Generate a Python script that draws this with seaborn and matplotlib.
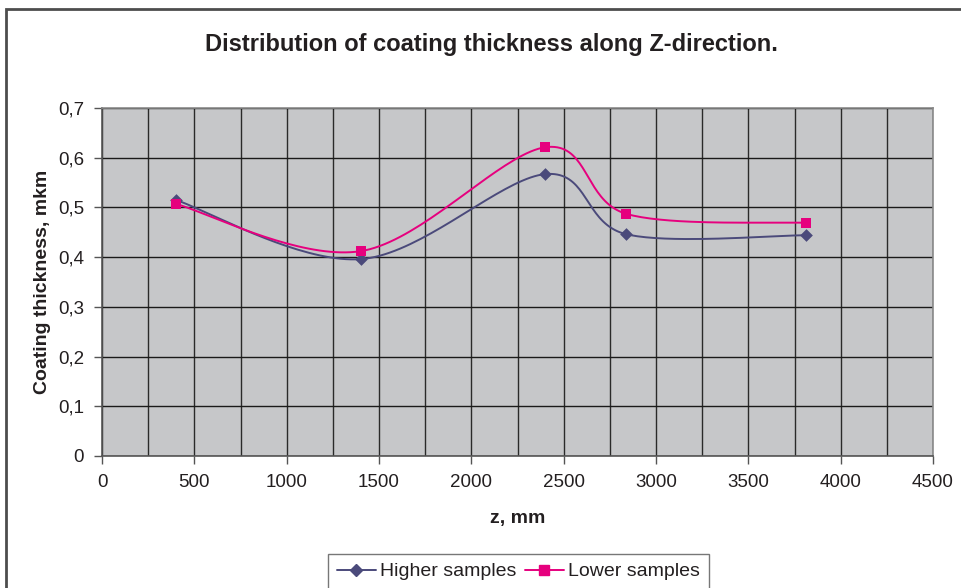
import numpy as np
import pandas as pd
import matplotlib
matplotlib.use("Agg")
import matplotlib.pyplot as plt
import seaborn as sns
from matplotlib.lines import Line2D
from matplotlib.patches import Rectangle
from matplotlib.ticker import MultipleLocator, FuncFormatter

# ---- data ----
z_mm = [400, 1400, 2400, 2840, 3810]
higher = [0.515, 0.396, 0.567, 0.446, 0.444]
lower = [0.507, 0.412, 0.621, 0.487, 0.469]
series_names = ["Higher samples", "Lower samples"]
title = "Distribution of coating thickness along Z-direction."
xlabel = "z, mm"
ylabel = "Coating thickness, mkm"

HIGH_C = "#4B4A7B"
LOW_C = "#E6007E"

sns.set_theme(style="white")
plt.rcParams["font.family"] = ["Liberation Sans", "DejaVu Sans"]

fig = plt.figure(figsize=(9.61, 5.88), dpi=100)
ax = fig.add_axes([102 / 961, 1 - 456 / 588, (933 - 102) / 961, (456 - 108) / 588])
ax.set_xlim(0, 4500)
ax.set_ylim(0, 0.7)

# Excel-like smoothing (Bezier through points), computed in display proportions
def smooth(xs, ys, n=40):
    sx = 831 / 4500.0
    sy = 348 / 0.7
    P = np.column_stack([np.asarray(xs, float) * sx, np.asarray(ys, float) * sy])
    out = []
    m = len(P)
    for i in range(m - 1):
        p0 = P[i - 1] if i > 0 else P[i]
        p1 = P[i]
        p2 = P[i + 1]
        p3 = P[i + 2] if i + 2 < m else P[i + 1]
        c1 = p1 + (p2 - p0) / 6.0
        c2 = p2 - (p3 - p1) / 6.0
        t = np.linspace(0, 1, n)[:, None]
        seg = ((1 - t) ** 3) * p1 + 3 * ((1 - t) ** 2) * t * c1 + 3 * (1 - t) * t ** 2 * c2 + t ** 3 * p2
        out.append(seg if i == 0 else seg[1:])
    out = np.vstack(out)
    return out[:, 0] / sx, out[:, 1] / sy

for vals, col, mk, ms, name in [(higher, HIGH_C, "D", 42, series_names[0]),
                                (lower, LOW_C, "s", 55, series_names[1])]:
    sxv, syv = smooth(z_mm, vals)
    df_line = pd.DataFrame({"z": sxv, "v": syv})
    sns.lineplot(data=df_line, x="z", y="v", ax=ax, color=col, lw=1.4, sort=False,
                 estimator=None, zorder=3)
    df_pts = pd.DataFrame({"z": z_mm, "v": vals})
    sns.scatterplot(data=df_pts, x="z", y="v", ax=ax, color=col, marker=mk, s=ms,
                    edgecolor=col, linewidth=0, zorder=4)

ax.set_facecolor("#C6C7C9")
ax.xaxis.set_major_locator(MultipleLocator(500))
ax.xaxis.set_minor_locator(MultipleLocator(250))
ax.yaxis.set_major_locator(MultipleLocator(0.1))
ax.grid(which="major", axis="y", color="#1a1a1a", lw=1.0, zorder=1)
ax.grid(which="both", axis="x", color="#2a2a2a", lw=1.0, zorder=1)
ax.set_axisbelow(True)

def yfmt(v, pos):
    if abs(v) < 1e-9:
        return "0"
    return f"{v:.1f}".replace(".", ",")

ax.yaxis.set_major_formatter(FuncFormatter(yfmt))
ax.tick_params(axis="both", which="major", direction="out", length=6, width=1,
               color="#555555", labelsize=13.5, labelcolor="#231F20", pad=7,
               bottom=True, left=True)
ax.tick_params(axis="x", which="minor", length=0, bottom=False)
for s in ax.spines.values():
    s.set_color("#8a8a8a")
    s.set_linewidth(1.2)
ax.spines["left"].set_color("#555555")
ax.spines["bottom"].set_color("#555555")

ax.set_xlabel(xlabel, fontsize=14, fontweight="bold", color="#231F20", labelpad=14)
ax.set_ylabel(ylabel, fontsize=14, fontweight="bold", color="#231F20", labelpad=5)

fig.text(491 / 961, 1 - 45 / 588, title, ha="center", va="center", fontsize=17,
         fontweight="bold", color="#231F20")

handles = [Line2D([], [], color=HIGH_C, marker="D", markersize=6, lw=1.4),
           Line2D([], [], color=LOW_C, marker="s", markersize=7, lw=1.4)]
leg = fig.legend(handles, series_names, loc="upper left",
                 bbox_to_anchor=(328 / 961, 1 - 554 / 588), ncol=2, fontsize=14,
                 frameon=True, fancybox=False, borderpad=0.45, handlelength=2.0,
                 columnspacing=0.4, handletextpad=0.25, borderaxespad=0)
leg.get_frame().set_edgecolor("#555555")
leg.get_frame().set_linewidth(1.0)
for t in leg.get_texts():
    t.set_color("#231F20")

# figure border (extends past right/bottom edges)
fig.patches.append(Rectangle((6 / 961, -0.2), 1.2, 1.2 - 9 / 588, transform=fig.transFigure,
                             fill=False, edgecolor="#4d4d4d", lw=2, zorder=0))

fig.savefig("out.png", dpi=100)
